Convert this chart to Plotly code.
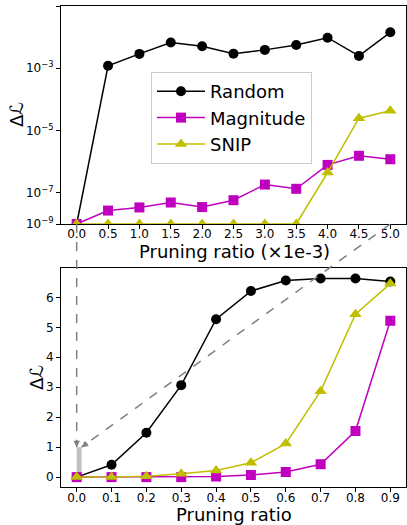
import math
import plotly.graph_objects as go

# ---------------- data ----------------
ratio_small = [0.0, 0.5, 1.0, 1.5, 2.0, 2.5, 3.0, 3.5, 4.0, 4.5, 5.0]   # x1e-3
small_random = [0, 1.2e-3, 2.9e-3, 6.7e-3, 5.1e-3, 2.95e-3, 3.9e-3, 5.6e-3, 9.6e-3, 2.5e-3, 1.43e-2]
small_magnitude = [0, 2.7e-8, 3.4e-8, 4.9e-8, 3.5e-8, 5.8e-8, 1.85e-7, 1.35e-7, 7.9e-7, 1.55e-6, 1.2e-6]
small_snip = [0, 0, 0, 0, 0, 0, 0, 0, 4.5e-7, 2.5e-5, 4.3e-5]

ratio_large = [0.0, 0.1, 0.2, 0.3, 0.4, 0.5, 0.6, 0.7, 0.8, 0.9]
large_random = [0.0, 0.41, 1.48, 3.07, 5.27, 6.21, 6.56, 6.63, 6.63, 6.53]
large_magnitude = [0.0, 0.0, 0.0, 0.0, 0.02, 0.07, 0.17, 0.43, 1.54, 5.22]
large_snip = [0.0, 0.0, 0.03, 0.11, 0.22, 0.48, 1.12, 2.87, 5.44, 6.46]

top_ytick_vals = [1e-1, 1e-3, 1e-5, 1e-7, 1e-8]
top_ytick_text = ["10<sup>\u22121</sup>", "10<sup>\u22123</sup>", "10<sup>\u22125</sup>",
                  "10<sup>\u22127</sup>", "10<sup>\u22129</sup>"]
bot_ytick_vals = [0, 1, 2, 3, 4, 5, 6]
FLOOR = 1e-8  # bottom of the top (log) axis; zero values sit on it

series_names = ["Random", "Magnitude", "SNIP"]
colors = ["#000000", "#bf00bf", "#bfbf00"]
symbols = ["circle", "square", "triangle-up"]

top_xtitle = "Pruning ratio (\u00d71e-3)"
bot_xtitle = "Pruning ratio"
ytitle = "\u0394\u2112"

# ---------------- layout geometry ----------------
W, H = 407, 525
ML, MR, MT, MB = 61, 1, 6, 38
PW, PH = W - ML - MR, H - MT - MB
top_dom = [(H - MB - 224) / PH, 1.0]
bot_dom = [0.0, (H - MB - 268) / PH]
top_xr = [-0.25, 5.25]
top_yr = [-8, -1]
bot_xr = [-0.045, 0.945]
bot_yr = [-0.33, 6.98]


def px2paper(xp, yp):
    return (xp - ML) / PW, (H - MB - yp) / PH


def to_paper(x, y, xr, yr, ydom, log=False):
    px = (x - xr[0]) / (xr[1] - xr[0])
    yy = math.log10(y) if log else y
    py = ydom[0] + (yy - yr[0]) / (yr[1] - yr[0]) * (ydom[1] - ydom[0])
    return px, py


fig = go.Figure()

small_series = [small_random, small_magnitude, small_snip]
large_series = [large_random, large_magnitude, large_snip]

for name, vals, c, s in zip(series_names, small_series, colors, symbols):
    fig.add_trace(go.Scatter(
        x=ratio_small, y=[v if v > 0 else FLOOR for v in vals],
        mode="lines+markers", name=name,
        line=dict(color=c, width=1.5),
        marker=dict(color=c, symbol=s, size=10 if s != "triangle-up" else 11),
        xaxis="x", yaxis="y", cliponaxis=True))

for name, vals, c, s in zip(series_names, large_series, colors, symbols):
    fig.add_trace(go.Scatter(
        x=ratio_large, y=vals, mode="lines+markers", name=name, showlegend=False,
        line=dict(color=c, width=1.5),
        marker=dict(color=c, symbol=s, size=10 if s != "triangle-up" else 11),
        xaxis="x2", yaxis="y2", cliponaxis=False))

axis_common = dict(showline=True, linecolor="black", linewidth=1, mirror=True,
                   ticks="outside", ticklen=4, tickcolor="black", showgrid=False,
                   zeroline=False, tickfont=dict(family="DejaVu Sans", size=12, color="black"))
title_font = dict(family="DejaVu Sans", size=18, color="black")

fig.update_layout(
    width=W, height=H, margin=dict(l=ML, r=MR, t=MT, b=MB),
    paper_bgcolor="white", plot_bgcolor="white",
    xaxis=dict(domain=[0, 1], range=top_xr, anchor="y",
               tickvals=ratio_small, ticktext=[f"{v:.1f}" for v in ratio_small],
               ticklabelstandoff=-5, **axis_common),
    yaxis=dict(domain=top_dom, type="log", range=top_yr, anchor="x",
               tickvals=top_ytick_vals, ticktext=top_ytick_text, **axis_common),
    xaxis2=dict(domain=[0, 1], range=bot_xr, anchor="y2",
                tickvals=ratio_large, ticktext=[f"{v:.1f}" for v in ratio_large],
                ticklabelstandoff=-4, **axis_common),
    yaxis2=dict(domain=bot_dom, range=bot_yr, anchor="x2",
                tickvals=bot_ytick_vals, **axis_common),
    legend=dict(x=(151 - ML) / PW, y=(H - MB - 72) / PH, xanchor="left", yanchor="top",
                bgcolor="rgba(255,255,255,0.85)", bordercolor="#cccccc", borderwidth=1,
                font=dict(family="DejaVu Sans", size=18, color="black"),
                itemwidth=48, tracegroupgap=0),
    showlegend=True,
)

# axis titles placed as annotations
for text, (xp, yp), ang in [(top_xtitle, (234, 251), 0), (bot_xtitle, (234, 514), 0),
                            (ytitle, (17, 115), -90), (ytitle, (36, 378), -90)]:
    ax_, ay_ = px2paper(xp, yp)
    fig.add_annotation(x=ax_, y=ay_, xref="paper", yref="paper", text=text,
                       showarrow=False, textangle=ang, font=title_font,
                       xanchor="center", yanchor="middle")

# highlight bar at ratio 0 in the lower plot
fig.add_shape(type="rect", xref="x2", yref="y2", x0=0, x1=0.014, y0=0, y1=1,
              fillcolor="#c0c0c0", line=dict(width=0), layer="below")

# connectors from upper plot to the highlight bar
connectors = [((ratio_small[0], FLOOR), (0.0, 1.0)),
              ((ratio_small[-1], FLOOR), (0.014, 1.0))]
for (tx, ty), (hx, hy) in connectors:
    x0, y0 = to_paper(tx, ty, top_xr, top_yr, top_dom, log=True)
    x1, y1 = to_paper(hx, hy, bot_xr, bot_yr, bot_dom)
    fig.add_shape(type="line", xref="paper", yref="paper", x0=x0, y0=y0, x1=x1, y1=y1,
                  line=dict(color="gray", width=1.5, dash="dash"))
    dxp = (x0 - x1) * PW
    dyp = -(y0 - y1) * PH
    L = math.hypot(dxp, dyp)
    fig.add_annotation(x=x1, y=y1, xref="paper", yref="paper", text="",
                       showarrow=True, arrowhead=2, arrowsize=1, arrowwidth=1.3,
                       arrowcolor="gray", ax=dxp / L * 9, ay=dyp / L * 9)

fig.write_html("out.html", config={"displayModeBar": False},
               post_script="document.body.style.margin='0';document.body.style.overflow='hidden';")
